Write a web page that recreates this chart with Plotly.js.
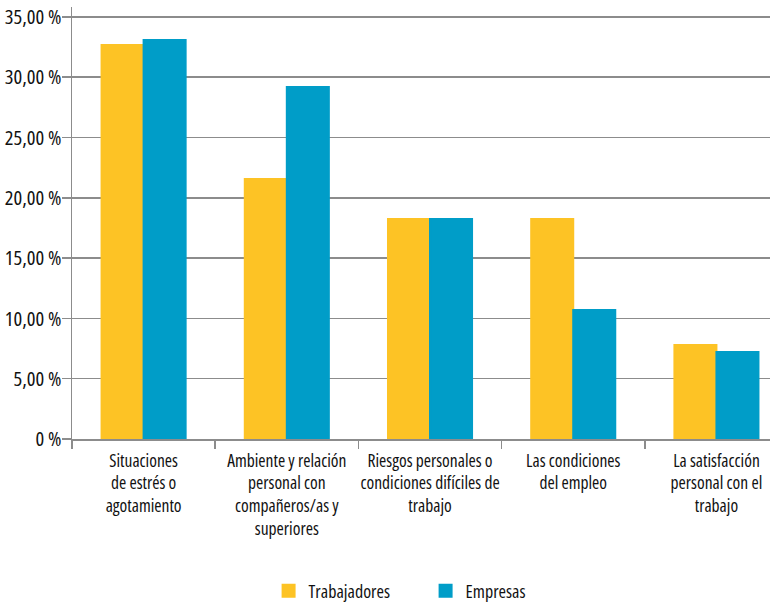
<!DOCTYPE html>
<html>
<head>
<meta charset="utf-8">
<script src="https://cdn.plot.ly/plotly-3.0.1.min.js"></script>
<style>
  html, body { margin: 0; padding: 0; background: #fff; }
  #chart { width: 771px; height: 604px; }
  /* narrow cut of the variable sans for every label */
  svg text { font-stretch: 75%; }
</style>
</head>
<body>
<div id="chart"></div>
<script>
// Motivos (categorías del eje X)
const categories = [
  "Situaciones<br>de estrés o<br>agotamiento",
  "Ambiente y relación<br>personal con<br>compañeros/as y<br>superiores",
  "Riesgos personales o<br>condiciones difíciles de<br>trabajo",
  "Las condiciones<br>del empleo",
  "La satisfacción<br>personal con el<br>trabajo"
];

// Porcentajes por serie
const trabajadores = [32.67, 21.56, 18.24, 18.24, 7.79];
const empresas = [33.08, 29.19, 18.24, 10.70, 7.21];

// Marcas del eje Y
const yTickValues = [0, 5, 10, 15, 20, 25, 30, 35];
const yTickLabels = ["0 %", "5,00 %", "10,00 %", "15,00 %", "20,00 %", "25,00 %", "30,00 %", "35,00 %"];

const FONT = '"Open Sans", "Roboto", sans-serif';
const GRID = '#8c8c8c';
const INK = '#111111';
const YELLOW = '#FDC325';
const BLUE = '#009DC8';

const traces = [
  {
    type: 'bar', name: 'Trabajadores', x: categories, y: trabajadores,
    marker: { color: YELLOW, line: { color: YELLOW, width: 2 } }, hoverinfo: 'none'
  },
  {
    type: 'bar', name: 'Empresas', x: categories, y: empresas,
    marker: { color: BLUE, line: { color: BLUE, width: 2 } }, hoverinfo: 'none'
  }
];

const layout = {
  width: 771, height: 604,
  margin: { l: 72, r: 1, t: 7, b: 165, autoexpand: false },
  paper_bgcolor: '#fff', plot_bgcolor: '#fff',
  font: { family: FONT, size: 17, color: INK, weight: 500 },
  barmode: 'group', bargap: 0.413, bargroupgap: 0,
  showlegend: true,
  legend: {
    orientation: 'h',
    xref: 'container', x: 0.552, xanchor: 'center',
    yref: 'container', y: 0.0215, yanchor: 'middle',
    font: { family: FONT, size: 18, color: INK, weight: 500 },
    itemwidth: 30, entrywidth: 112, traceorder: 'normal'
  },
  xaxis: {
    type: 'category', range: [-0.5, 4.374],
    showline: true, linecolor: GRID, linewidth: 1.5,
    ticks: 'outside', tickson: 'boundaries', ticklen: 8, tickcolor: GRID, tickwidth: 1.5,
    ticklabelstandoff: 5,
    tickfont: { family: FONT, size: 17.5, color: INK, weight: 500 },
    showgrid: false, tickangle: 0, automargin: false
  },
  yaxis: {
    range: [0, 35.82], tickmode: 'array', tickvals: yTickValues, ticktext: yTickLabels,
    showline: true, linecolor: GRID, linewidth: 1.5,
    showgrid: true, gridcolor: GRID, gridwidth: 1.5,
    zeroline: false,
    ticks: 'outside', ticklen: 9, tickcolor: GRID, tickwidth: 1.5,
    ticklabelstandoff: -4,
    tickfont: { family: FONT, size: 20.5, color: INK, weight: 500 },
    automargin: false
  }
};

Plotly.newPlot('chart', traces, layout, { displayModeBar: false, staticPlot: true });
</script>
</body>
</html>
